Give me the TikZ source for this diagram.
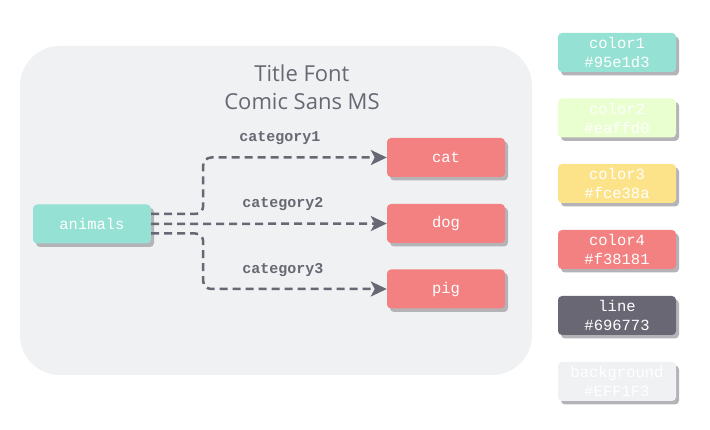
\documentclass[tikz,border=0pt]{standalone}
\usepackage{fontspec}
\setmonofont{Liberation Mono}
\newfontfamily\titlefont{Open Sans}
\usetikzlibrary{shadows,arrows.meta}
\definecolor{bgc}{HTML}{EFF1F3}
\definecolor{cA}{HTML}{95E1D3}
\definecolor{cB}{HTML}{EAFFD0}
\definecolor{cC}{HTML}{FCE38A}
\definecolor{cD}{HTML}{F38181}
\definecolor{lnc}{HTML}{696773}
\definecolor{shc}{HTML}{B4B4B8}
\begin{document}
\begin{tikzpicture}[x=1pt,y=-1pt,
  box/.style={minimum width=118pt,minimum height=39pt,inner sep=0pt,rounded corners=4pt,
    text=white,font=\ttfamily\fontsize{15.5}{19}\selectfont,align=center,
    general shadow={fill=shc,shadow xshift=3pt,shadow yshift=-3.5pt}},
  edge/.style={draw=lnc,line width=2.5pt,dash pattern=on 8pt off 5pt,rounded corners=8pt,
    -{Stealth[length=16pt,width=15pt,inset=4pt,fill=lnc]}},
  lbl/.style={text=lnc,font=\ttfamily\bfseries\fontsize{15}{18}\selectfont},
  ttl/.style={text=lnc,font=\titlefont\fontsize{22}{28}\selectfont,anchor=base}]
\useasboundingbox (0,0) rectangle (710,430);
\fill[white] (0,0) rectangle (710,430);
\fill[bgc,rounded corners=40pt] (20,46) rectangle (532,375);
\node[ttl] (t1) at (302,82) {Title Font};
\node[ttl] (t2) at (302,110) {Comic Sans MS};
\node[box,fill=cA] (animals) at (92,224) {animals};
\node[box,fill=cD] (cat) at (446,157.5) {cat};
\node[box,fill=cD] (dog) at (446,223.5) {dog};
\node[box,fill=cD] (pig) at (446,289) {pig};
\draw[edge] ([yshift=10pt]animals.east) -- ++(52,0) |- (cat.west);
\draw[edge] (animals.east) -- (dog.west);
\draw[edge] ([yshift=-9.5pt]animals.east) -- ++(52,0) |- (pig.west);
\node[lbl] (l1) at (280,138) {category1};
\node[lbl] (l2) at (283,204) {category2};
\node[lbl] (l3) at (283,270) {category3};
\node[box,fill=cA] (p1) at (617,52.5) {color1\\\#95e1d3};
\node[box,fill=cB] (p2) at (617,118) {color2\\\#eaffd0};
\node[box,fill=cC] (p3) at (617,183.5) {color3\\\#fce38a};
\node[box,fill=cD] (p4) at (617,249.5) {color4\\\#f38181};
\node[box,fill=lnc] (p5) at (617,315.5) {line\\\#696773};
\node[box,fill=bgc] (p6) at (617,381.5) {background\\\#EFF1F3};
\end{tikzpicture}
\end{document}
